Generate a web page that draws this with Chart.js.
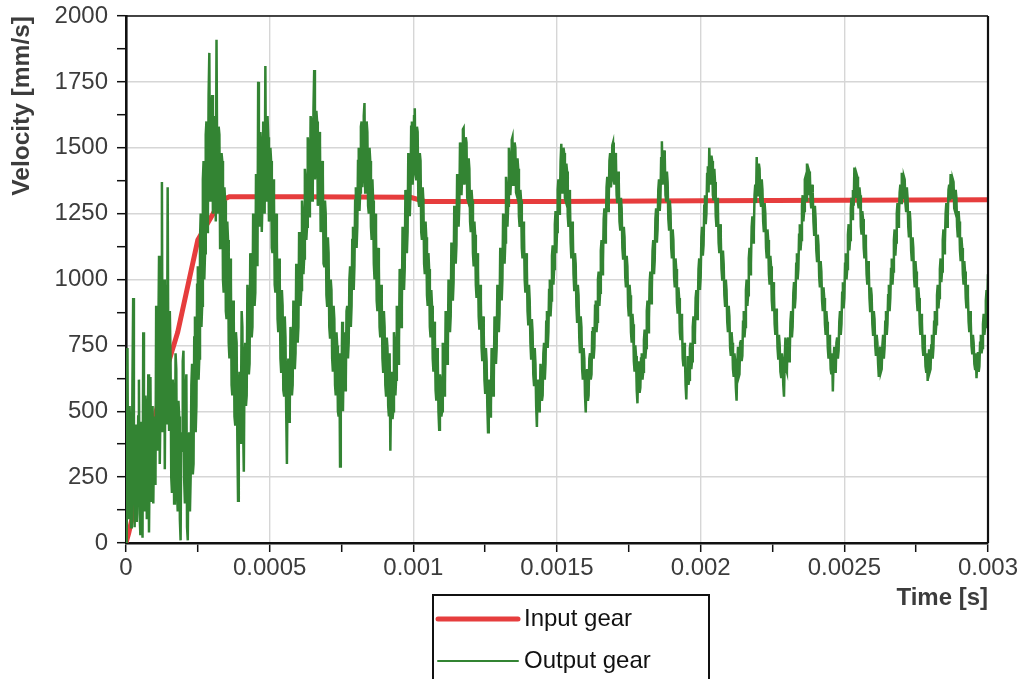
<!DOCTYPE html>
<html>
<head>
<meta charset="utf-8">
<title>Gear velocity</title>
<script src="https://cdn.jsdelivr.net/npm/chart.js@4.4.1/dist/chart.umd.min.js"></script>
<style>
  html, body { margin: 0; padding: 0; background: #fff; }
  canvas { display: block; }
</style>
</head>
<body>
<canvas id="chart" width="1024" height="679"></canvas>
<script>
// output gear samples: one row per 50 µs, 20 samples per row (2.5 µs apart)
const rowSpan = 0.00005;
const timeStep = 0.0000025;

// output gear velocity [mm/s]
const outputRows = [
  [0, 420, 740, 150, 90, 520, 400, 60, 180, 610, 930, 240, 60, 330, 450, 80, 210, 480, 620, 110],
  [30, 460, 380, 20, 800, 300, 120, 560, 500, 90, 260, 640, 40, 330, 630, 160, 300, 520, 150, 400],
  [480, 220, 900, 460, 350, 780, 1090, 300, 520, 950, 1370, 420, 640, 1000, 280, 760, 980, 450, 1350, 600],
  [430, 880, 700, 250, 190, 620, 560, 150, 260, 720, 660, 200, 120, 540, 480, 90, 10, 420, 350, 690],
  [730, 240, 150, 560, 640, 60, 10, 380, 420, 120, 250, 600, 680, 260, 300, 780, 860, 420, 520, 980],
  [1050, 620, 700, 1150, 1250, 820, 900, 1380, 1450, 1000, 1100, 1550, 1600, 1180, 1250, 1700, 1860, 1300, 1350, 1650],
  [1700, 1250, 1300, 1620, 1600, 1220, 1910, 1400, 1250, 1580, 1550, 1120, 1150, 1480, 1450, 1000, 950, 1350, 1300, 880],
  [850, 1220, 1150, 760, 700, 1080, 1000, 600, 560, 920, 850, 480, 450, 800, 760, 400, 160, 560, 650, 380],
  [480, 880, 820, 450, 270, 700, 760, 520, 560, 980, 900, 640, 680, 1100, 1050, 780, 820, 1250, 1200, 900],
  [950, 1400, 1350, 1050, 1750, 1280, 1200, 1560, 1500, 1180, 1300, 1600, 1560, 1250, 1810, 1300, 1350, 1620, 1540, 1220],
  [1250, 1500, 1450, 1120, 1100, 1380, 1300, 980, 950, 1250, 1150, 850, 800, 1080, 1000, 700, 650, 960, 900, 580],
  [560, 860, 780, 500, 300, 640, 700, 460, 520, 820, 760, 560, 600, 920, 870, 660, 720, 1060, 1000, 760],
  [820, 1180, 1120, 900, 960, 1300, 1250, 1020, 1080, 1420, 1380, 1150, 1200, 1540, 1500, 1240, 1280, 1620, 1600, 1300],
  [1350, 1650, 1795, 1380, 1420, 1640, 1600, 1280, 1300, 1560, 1520, 1180, 1200, 1450, 1400, 1060, 1050, 1300, 1250, 940],
  [900, 1160, 1100, 820, 780, 1000, 960, 700, 650, 900, 850, 600, 560, 800, 750, 500, 480, 720, 290, 560],
  [620, 840, 500, 700, 800, 580, 620, 880, 900, 700, 760, 1000, 1050, 820, 900, 1150, 1200, 960, 1050, 1300],
  [1350, 1120, 1200, 1450, 1500, 1260, 1330, 1580, 1600, 1350, 1400, 1620, 1670, 1330, 1380, 1600, 1560, 1280, 1250, 1500],
  [1450, 1200, 1150, 1380, 1300, 1060, 1000, 1250, 1180, 920, 880, 1120, 1050, 820, 780, 980, 920, 700, 650, 880],
  [820, 600, 560, 780, 740, 520, 480, 720, 350, 560, 650, 470, 500, 800, 760, 560, 620, 900, 880, 680],
  [760, 1040, 1020, 820, 900, 1200, 1160, 960, 1040, 1340, 1300, 1100, 1180, 1480, 1450, 1240, 1320, 1580, 1600, 1360],
  [1420, 1620, 1650, 1400, 1380, 1580, 1560, 1300, 1280, 1480, 1450, 1180, 1150, 1350, 1300, 1060, 1020, 1220, 1160, 940],
  [900, 1100, 1040, 820, 780, 960, 900, 700, 650, 840, 780, 580, 540, 740, 700, 500, 430, 640, 620, 480],
  [500, 760, 720, 560, 600, 880, 840, 680, 730, 1000, 970, 800, 860, 1140, 1100, 920, 990, 1280, 1240, 1060],
  [1130, 1400, 1380, 1200, 1280, 1520, 1500, 1320, 1400, 1570, 1575, 1360, 1380, 1540, 1520, 1310, 1300, 1460, 1420, 1220],
  [1180, 1340, 1300, 1100, 1050, 1220, 1170, 980, 930, 1100, 1040, 860, 810, 980, 920, 740, 690, 860, 800, 620],
  [570, 740, 690, 520, 420, 600, 620, 480, 520, 740, 700, 560, 620, 860, 820, 680, 740, 980, 950, 800],
  [870, 1120, 1080, 920, 1000, 1250, 1220, 1060, 1140, 1390, 1350, 1200, 1280, 1500, 1470, 1320, 1380, 1530, 1540, 1360],
  [1400, 1520, 1500, 1330, 1320, 1460, 1420, 1240, 1200, 1340, 1300, 1120, 1080, 1220, 1180, 1000, 950, 1100, 1050, 880],
  [830, 980, 920, 760, 700, 850, 800, 640, 600, 740, 680, 520, 440, 600, 620, 500, 520, 680, 640, 540],
  [560, 720, 760, 620, 680, 840, 880, 740, 800, 960, 1000, 860, 920, 1090, 1130, 980, 1040, 1210, 1260, 1100],
  [1180, 1340, 1380, 1250, 1290, 1450, 1515, 1330, 1360, 1500, 1480, 1310, 1300, 1440, 1410, 1240, 1200, 1340, 1300, 1140],
  [1080, 1220, 1180, 1020, 960, 1100, 1060, 900, 840, 980, 940, 780, 720, 860, 820, 660, 620, 740, 700, 560],
  [495, 640, 660, 540, 560, 700, 720, 620, 640, 800, 820, 700, 740, 900, 920, 800, 840, 1000, 1030, 900],
  [950, 1110, 1150, 1020, 1070, 1230, 1270, 1140, 1190, 1350, 1390, 1260, 1300, 1450, 1480, 1350, 1380, 1510, 1520, 1380],
  [1360, 1480, 1460, 1320, 1290, 1410, 1370, 1220, 1190, 1310, 1270, 1120, 1080, 1200, 1160, 1010, 970, 1090, 1050, 900],
  [860, 980, 940, 800, 760, 870, 830, 690, 650, 750, 710, 580, 530, 660, 690, 570, 590, 700, 720, 620],
  [650, 770, 810, 700, 740, 880, 920, 800, 850, 990, 1030, 910, 960, 1110, 1150, 1020, 1070, 1230, 1270, 1140],
  [1190, 1340, 1380, 1260, 1310, 1460, 1525, 1360, 1390, 1490, 1470, 1320, 1300, 1410, 1370, 1230, 1190, 1300, 1260, 1120],
  [1080, 1190, 1150, 1010, 970, 1080, 1040, 910, 870, 970, 930, 800, 770, 870, 830, 700, 670, 760, 720, 600],
  [545, 660, 710, 600, 620, 740, 760, 660, 690, 820, 860, 760, 790, 930, 960, 850, 890, 1040, 1080, 960],
  [1010, 1160, 1200, 1090, 1130, 1280, 1320, 1210, 1250, 1400, 1430, 1330, 1500, 1400, 1360, 1470, 1450, 1320, 1300, 1420],
  [1370, 1240, 1200, 1310, 1270, 1140, 1100, 1210, 1160, 1040, 1000, 1110, 1060, 940, 900, 1000, 960, 840, 800, 900],
  [860, 740, 710, 800, 760, 660, 630, 720, 690, 590, 540, 680, 745, 630, 640, 760, 770, 690, 710, 840],
  [880, 780, 820, 960, 1000, 900, 940, 1080, 1120, 1020, 1060, 1200, 1240, 1140, 1180, 1320, 1360, 1290, 1465, 1340],
  [1320, 1440, 1420, 1300, 1280, 1380, 1340, 1220, 1180, 1290, 1250, 1120, 1080, 1190, 1150, 1020, 980, 1090, 1050, 920],
  [880, 990, 950, 830, 790, 890, 850, 740, 700, 790, 750, 650, 630, 720, 690, 600, 555, 700, 780, 660],
  [650, 760, 780, 690, 720, 840, 880, 780, 820, 950, 990, 890, 930, 1060, 1100, 1000, 1040, 1170, 1210, 1110],
  [1150, 1280, 1320, 1220, 1260, 1380, 1390, 1300, 1440, 1360, 1320, 1410, 1400, 1300, 1270, 1360, 1330, 1220, 1170, 1280],
  [1230, 1110, 1070, 1170, 1130, 1010, 970, 1070, 1030, 920, 880, 970, 930, 830, 790, 880, 840, 740, 700, 790],
  [750, 660, 640, 720, 575, 690, 745, 650, 650, 760, 780, 700, 730, 840, 880, 790, 830, 950, 990, 890],
  [930, 1060, 1100, 1000, 1040, 1170, 1210, 1110, 1150, 1270, 1310, 1230, 1340, 1280, 1425, 1330, 1310, 1400, 1390, 1290],
  [1270, 1350, 1320, 1200, 1170, 1260, 1230, 1120, 1080, 1170, 1130, 1020, 980, 1070, 1040, 930, 880, 970, 940, 830],
  [790, 880, 850, 750, 710, 790, 760, 680, 630, 720, 745, 650, 660, 750, 790, 700, 740, 840, 880, 790],
  [830, 940, 980, 880, 930, 1040, 1080, 980, 1030, 1150, 1190, 1090, 1140, 1250, 1290, 1200, 1240, 1330, 1360, 1290],
  [1405, 1330, 1310, 1390, 1380, 1290, 1260, 1350, 1310, 1200, 1160, 1260, 1220, 1110, 1070, 1160, 1120, 1010, 970, 1070],
  [1030, 920, 880, 970, 930, 830, 790, 870, 840, 740, 710, 790, 750, 670, 650, 720, 615, 690, 735, 650],
  [660, 750, 790, 700, 740, 840, 880, 790, 830, 940, 980, 890, 930, 1040, 1080, 990, 1030, 1150, 1190, 1100],
  [1140, 1250, 1290, 1200, 1240, 1340, 1360, 1300, 1400, 1320, 1310, 1380, 1370, 1270, 1260, 1340, 1310, 1200, 1160, 1260],
  [1220, 1110, 1070, 1160, 1120, 1020, 980, 1070, 1030, 930, 890, 980, 940, 840, 800, 880, 840, 750, 720, 790],
  [760, 680, 660, 720, 625, 690, 725, 650, 670, 760, 790, 720, 740, 830, 870, 790, 820, 920, 960, 880],
  [1020]
];

// input gear velocity ramp and plateau
const inputTime = [0, 0.00001, 0.00013, 0.00018, 0.00025, 0.00033, 0.00036, 0.0006, 0.00099, 0.00104, 0.0015, 0.002, 0.0025, 0.003];
const inputVelocity = [0, 40, 620, 800, 1150, 1300, 1314, 1314, 1312, 1296, 1296, 1299, 1301, 1303];

// axis ticks (labels only on the major ones)
const timeTicks = [0, 0.00025, 0.0005, 0.00075, 0.001, 0.00125, 0.0015, 0.00175, 0.002, 0.00225, 0.0025, 0.00275, 0.003];
const timeLabels = ['0', '', '0.0005', '', '0.001', '', '0.0015', '', '0.002', '', '0.0025', '', '0.003'];
const velocityTicks = [0, 125, 250, 375, 500, 625, 750, 875, 1000, 1125, 1250, 1375, 1500, 1625, 1750, 1875, 2000];
const velocityLabels = ['0', '', '250', '', '500', '', '750', '', '1000', '', '1250', '', '1500', '', '1750', '', '2000'];

const FONT = "'Liberation Sans', Arial, sans-serif";
const TEXT = '#3c3c3c';
const RED = '#e63d3d';
const GREEN = '#338433';

const outputPoints = outputRows.flatMap((row, r) =>
  row.map((v, j) => ({ x: r * rowSpan + j * timeStep, y: v })));

const datasets = [
  {
    label: 'Input gear',
    data: inputTime.map((t, i) => ({ x: t, y: inputVelocity[i] })),
    borderColor: RED,
    borderWidth: 5,
    order: 1
  },
  {
    label: 'Output gear',
    data: outputPoints,
    borderColor: GREEN,
    borderWidth: 2.5,
    order: 0
  }
];

// top and right edges of the plot frame
const frame = {
  id: 'frame',
  afterDatasetsDraw(chart) {
    const { ctx, chartArea: a } = chart;
    ctx.save();
    ctx.strokeStyle = '#111';
    ctx.lineWidth = 1.6;
    ctx.beginPath();
    ctx.moveTo(a.left, a.top);
    ctx.lineTo(a.right, a.top);
    ctx.stroke();
    ctx.lineWidth = 2.2;
    ctx.beginPath();
    ctx.moveTo(a.right, a.top);
    ctx.lineTo(a.right, a.bottom);
    ctx.stroke();
    ctx.restore();
  }
};

// boxed legend under the plot
const legendBox = {
  id: 'legendBox',
  afterDraw(chart) {
    const { ctx } = chart;
    const x0 = 433, y0 = 595;
    ctx.save();
    ctx.strokeStyle = '#111';
    ctx.lineWidth = 2;
    ctx.strokeRect(x0, y0, 276, 110);
    ctx.font = '24px ' + FONT;
    ctx.fillStyle = '#111';
    ctx.textBaseline = 'middle';
    chart.data.datasets.forEach((ds, i) => {
      const y = y0 + 24 + i * 42;
      ctx.strokeStyle = ds.borderColor;
      ctx.lineWidth = i === 0 ? 5 : 2;
      ctx.lineCap = 'round';
      ctx.beginPath();
      ctx.moveTo(x0 + 5, y);
      ctx.lineTo(x0 + 85, y);
      ctx.stroke();
      ctx.fillText(ds.label, x0 + 91, y);
    });
    ctx.restore();
  }
};

new Chart(document.getElementById('chart'), {
  type: 'line',
  data: { datasets },
  options: {
    responsive: false,
    animation: false,
    elements: { point: { radius: 0 }, line: { tension: 0 } },
    layout: { padding: { left: 0, right: 36, top: 16, bottom: 66 } },
    plugins: { legend: { display: false }, tooltip: { enabled: false } },
    scales: {
      x: {
        type: 'linear',
        min: 0,
        max: 0.003,
        afterFit: s => { s.height = 70; s.paddingLeft = 0; s.paddingRight = 0; },
        afterBuildTicks: s => { s.ticks = timeTicks.map(v => ({ value: v })); },
        ticks: {
          autoSkip: false,
          maxRotation: 0,
          padding: 2,
          color: TEXT,
          font: { family: FONT, size: 24 },
          callback: (v, i) => timeLabels[i]
        },
        grid: {
          color: c => (c.index % 2 === 0 ? '#d6d6d6' : 'rgba(0,0,0,0)'),
          lineWidth: 1.4,
          tickColor: '#111',
          tickWidth: 1.5,
          tickLength: 9
        },
        border: { color: '#111', width: 2.6 },
        title: {
          display: true,
          text: 'Time [s]',
          align: 'end',
          color: TEXT,
          font: { family: FONT, size: 24, weight: 'bold' },
          padding: { top: 0, bottom: 0 }
        }
      },
      y: {
        type: 'linear',
        min: 0,
        max: 2000,
        afterFit: s => { s.width = 126; s.paddingTop = 0; s.paddingBottom = 0; },
        afterBuildTicks: s => { s.ticks = velocityTicks.map(v => ({ value: v })); },
        ticks: {
          autoSkip: false,
          padding: 9,
          color: TEXT,
          font: { family: FONT, size: 24 },
          callback: (v, i) => velocityLabels[i]
        },
        grid: {
          color: c => (c.index % 2 === 0 ? '#d6d6d6' : 'rgba(0,0,0,0)'),
          lineWidth: 1.4,
          tickColor: '#111',
          tickWidth: 1.5,
          tickLength: 9
        },
        border: { color: '#111', width: 2.6 },
        title: {
          display: true,
          text: 'Velocity [mm/s]',
          align: 'end',
          color: TEXT,
          font: { family: FONT, size: 24.5, weight: 'bold' },
          padding: { top: 8 }
        }
      }
    }
  },
  plugins: [frame, legendBox]
});
</script>
</body>
</html>
